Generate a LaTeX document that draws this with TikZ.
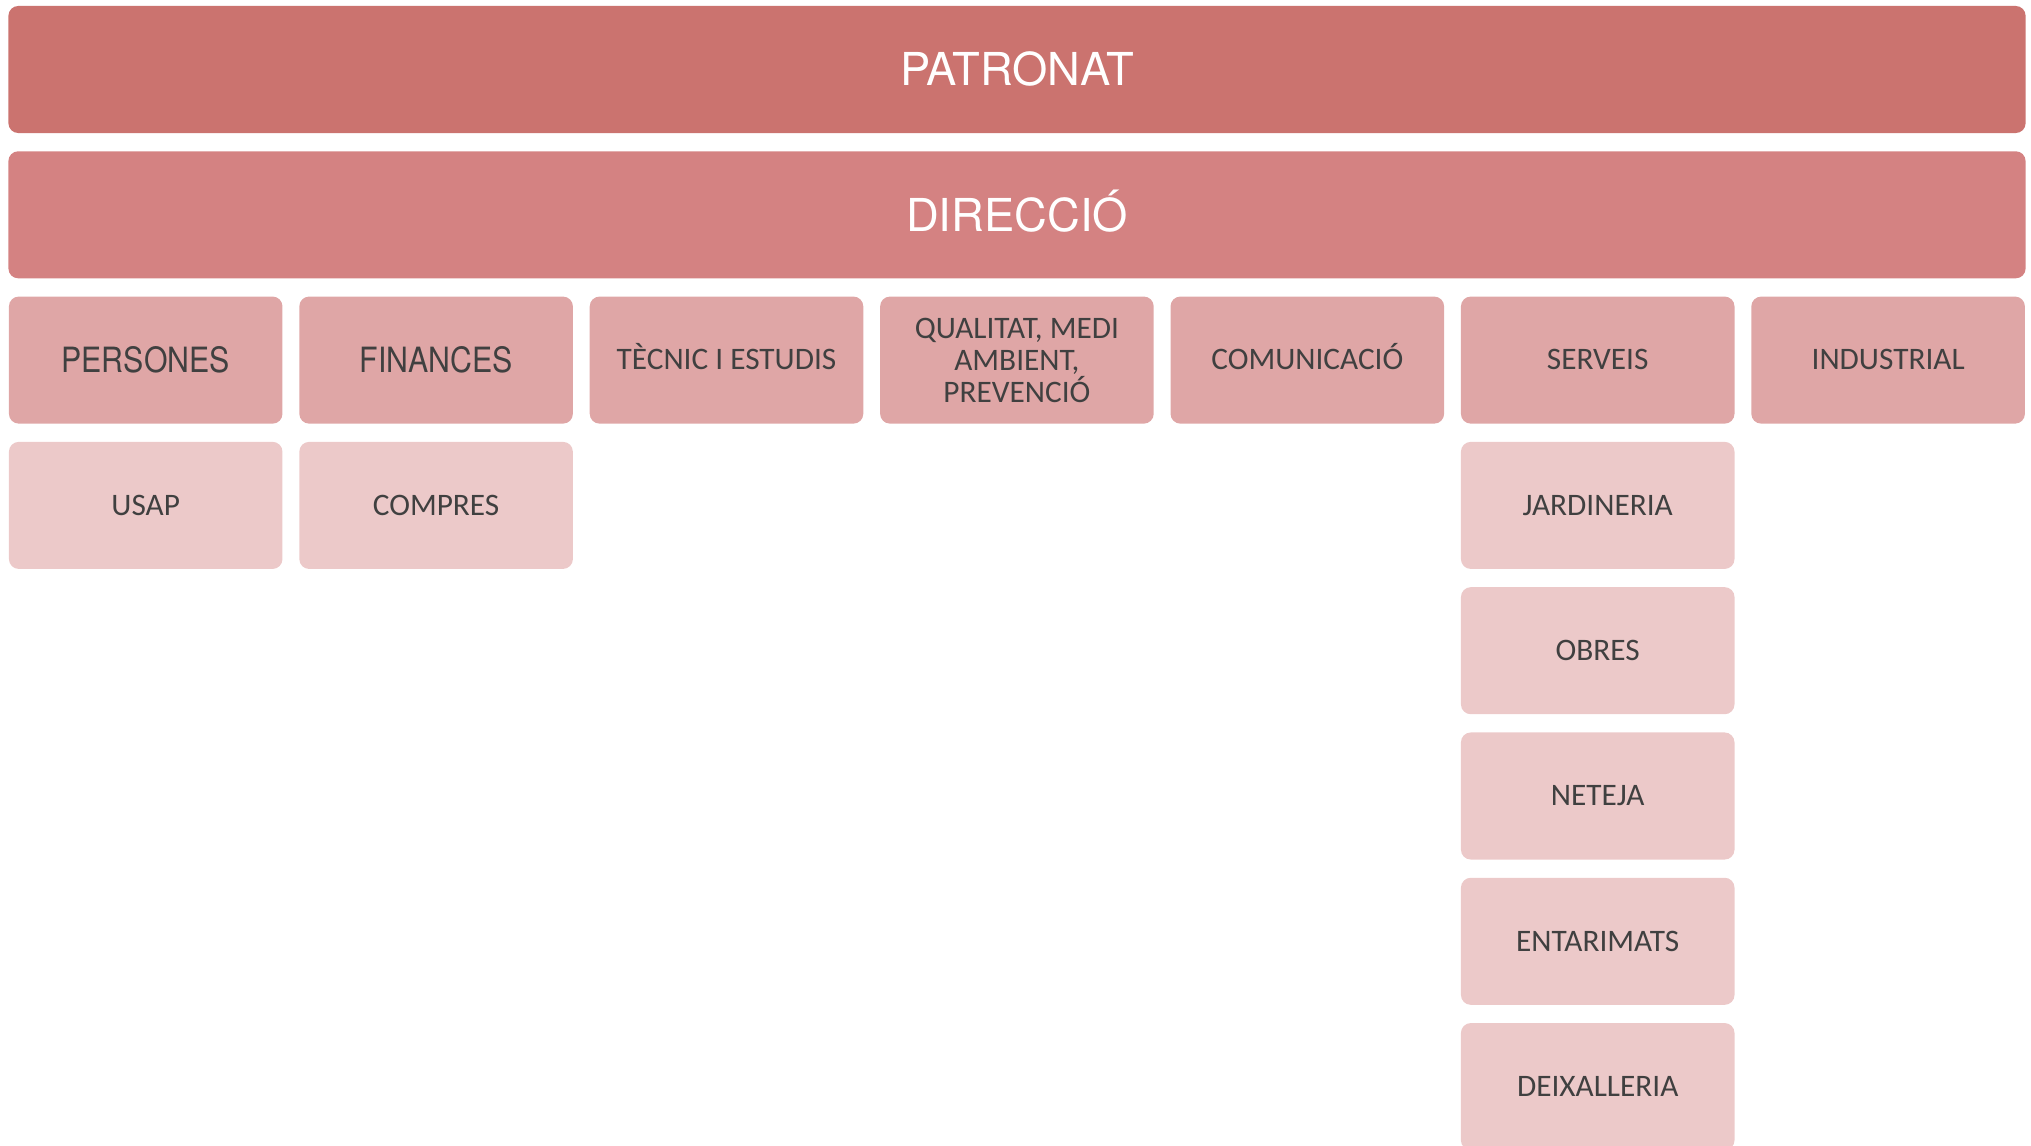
\documentclass[tikz,border=0pt]{standalone}
\usepackage{fontspec}
\newfontfamily\heroslight{TeX Gyre Heros}
\newfontfamily\herosnarrow[FakeStretch=0.87]{TeX Gyre Heros}
\newfontfamily\carlito{Carlito}
\definecolor{patrocol}{HTML}{CB736F}
\definecolor{direccol}{HTML}{D48282}
\definecolor{areacol}{HTML}{DFA6A6}
\definecolor{unitcol}{HTML}{ECC9C9}
\definecolor{textcol}{HTML}{404040}
\tikzset{
  orgbox/.style={rectangle, rounded corners=2.8pt, inner sep=0pt, minimum height=1.27cm, align=center},
  barbox/.style={orgbox, minimum width=20.16cm, text=white, text height=9.3pt, text depth=0pt,
    font=\heroslight\fontsize{12.9}{15}\selectfont},
  areabox/.style={orgbox, fill=areacol, minimum width=2.734cm, text=textcol},
  unitbox/.style={orgbox, fill=unitcol, minimum width=2.734cm, text=textcol, calicaps},
  helvtext/.style={font=\herosnarrow\fontsize{9.9}{12}\selectfont, text height=7.1pt, text depth=0pt},
  calitext/.style={font=\carlito\fontsize{8.9}{9.1}\selectfont},
  calicaps/.style={calitext, text height=5.6pt, text depth=0pt},
}
\begin{document}
\begin{tikzpicture}[x=0.01cm,y=-0.01cm]
\useasboundingbox (0,0) rectangle (2031,1146);
\node[barbox,fill=patrocol] (patronat) at (1017,69.5) {PATRONAT};
\node[barbox,fill=direccol] (direccio) at (1017,214.8) {DIRECCIÓ};
% arees
\foreach \i/\n/\f/\t in {0/persones/helvtext/{PERSONES}, 1/finances/helvtext/{FINANCES},
    2/tecnic/calicaps/{TÈCNIC I ESTUDIS}, 3/qualitat/calitext/{QUALITAT, MEDI\\AMBIENT,\\PREVENCIÓ},
    4/comunicacio/calicaps/{COMUNICACIÓ}, 5/serveis/calicaps/{SERVEIS}, 6/industrial/calicaps/{INDUSTRIAL}}
{
    \node[areabox,\f] (\n) at (145.7+\i*290.4, 360.1) {\t};
}
\node[unitbox] (usap) at (145.7, 505.4) {USAP};
\node[unitbox] (compres) at (436.1, 505.4) {COMPRES};
% serveis
\foreach \j/\n/\t in {3/jardineria/JARDINERIA, 4/obres/OBRES, 5/neteja/NETEJA, 6/entarimats/ENTARIMATS, 7/deixalleria/DEIXALLERIA}
{
    \node[unitbox] (\n) at (1597.7, 69.5+\j*145.3) {\t};
}
\end{tikzpicture}
\end{document}
